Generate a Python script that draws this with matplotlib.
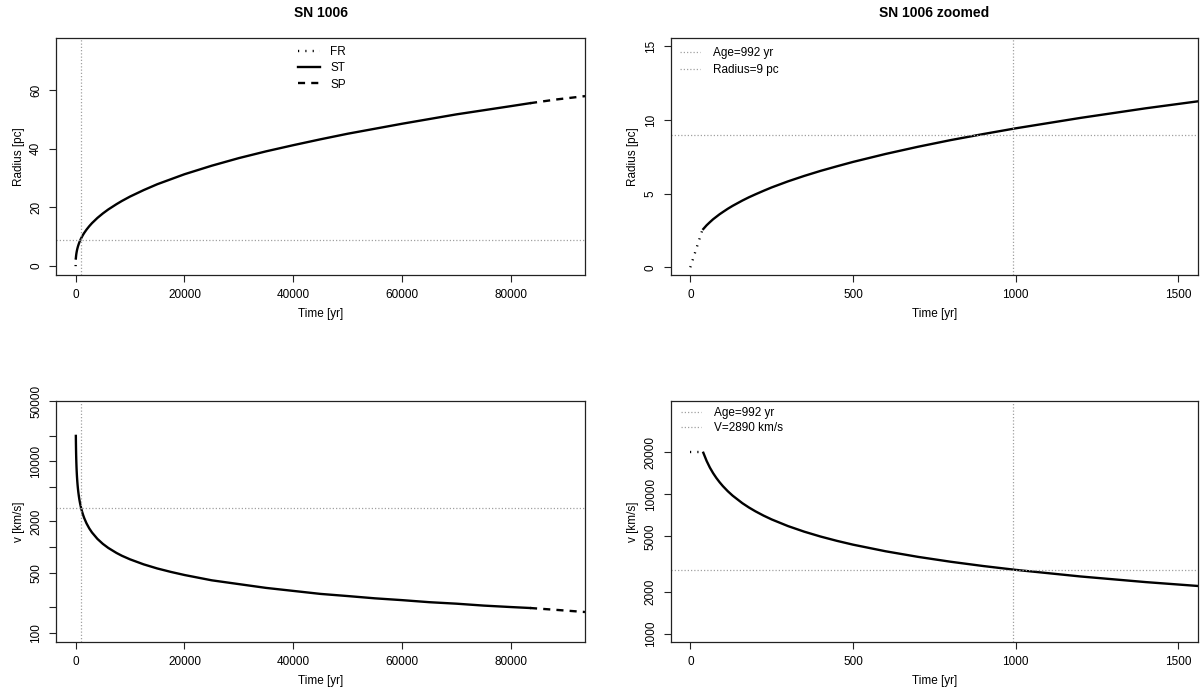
#!/usr/bin/env python3

import matplotlib
matplotlib.use("Agg")
import matplotlib.pyplot as plt
from matplotlib.ticker import FixedLocator, FixedFormatter, NullLocator

plt.rcParams['font.family'] = ['Liberation Sans', 'DejaVu Sans']

# values
age = 992          # yr
radius = 9         # pc
vel = 2890         # km/s

# free expansion phase (FR)
t_fr = [0, 38]
r_fr = [0, 2.6]
v_fr = [20000, 20000]

# Sedov-Taylor phase (ST)
t_st = [40, 50, 60, 70, 80, 90, 100, 115, 130, 160, 180, 200, 225, 250, 300,
        350, 400, 450, 500, 600, 700, 800, 900, 1000, 1200, 1400, 1600, 2000,
        2500, 3000, 4000, 5000, 6000, 7500, 8500, 10000, 12500, 15000, 17500,
        20000, 25000, 30000, 35000, 40000, 45000, 50000, 55000, 60000, 65000,
        70000, 75000, 80000, 83500]
r_st = [2.6, 2.85, 3.06, 3.26, 3.43, 3.60, 3.75, 3.97, 4.17, 4.53, 4.75, 4.95,
        5.19, 5.42, 5.83, 6.20, 6.54, 6.85, 7.15, 7.69, 8.18, 8.63, 9.04, 9.43,
        10.14, 10.79, 11.38, 12.44, 13.6, 14.64, 16.42, 17.95, 19.31, 21.1,
        22.2, 23.7, 25.9, 27.9, 29.6, 31.3, 34.2, 36.8, 39.1, 41.2, 43.2, 45.1,
        46.8, 48.5, 50.1, 51.7, 53.1, 54.5, 55.5]
v_st = [19840, 17360, 15550, 14180, 13090, 12200, 11450, 10530, 9783, 8636,
        8048, 7555, 7039, 6607, 5923, 5400, 4984, 4644, 4358, 3908, 3563, 3288,
        3064, 2876, 2578, 2350, 2170, 1898, 1660, 1488, 1252, 1095, 982, 859,
        796, 723, 632, 566, 516, 475, 412, 372, 336, 310, 286, 270, 254, 242,
        229, 220, 209, 201, 196]

# snowplow phase (SP)
t_sp = [83500, 88500, 93600]
r_sp = [55.5, 56.8, 57.9]
v_sp = [196, 186, 176]

LW = 1.7
DOT = (0.5, 2.6)
REF = dict(color='#a0a0a0', lw=0.9, dashes=(1, 1.6))
FS = 8.5


def draw_phases(ax, y_fr, y_st, y_sp):
    ax.plot(t_fr, y_fr, color='black', lw=LW, dashes=DOT, label='FR')
    ax.plot(t_st, y_st, color='black', lw=LW, label='ST')
    ax.plot(t_sp, y_sp, color='black', lw=LW, dashes=(3, 2.6), label='SP')


def style_axes(ax):
    for s in ax.spines.values():
        s.set_linewidth(0.9)
        s.set_color('#222222')
    ax.tick_params(direction='out', length=5, width=0.8, labelsize=FS,
                   pad=5, colors='#222222', labelcolor='black')
    for lab in ax.get_yticklabels():
        lab.set_rotation(90)
        lab.set_va('center')
    ax.set_xlabel("Time [yr]", fontsize=FS, labelpad=5)


def main():
    fig = plt.figure(figsize=(12, 6.97), dpi=100)

    ax1 = fig.add_axes([0.0467, 0.6055, 0.4408, 0.340])
    ax2 = fig.add_axes([0.559, 0.6055, 0.4392, 0.340])
    ax3 = fig.add_axes([0.0467, 0.0789, 0.4408, 0.346])
    ax4 = fig.add_axes([0.559, 0.0789, 0.4392, 0.346])

    # top left: radius, full range
    draw_phases(ax1, r_fr, r_st, r_sp)
    ax1.axvline(age, **REF)
    ax1.axhline(radius, **REF)
    ax1.set_xlim(-3600, 93600)
    ax1.set_ylim(-3.0, 77.7)
    ax1.set_xticks([0, 20000, 40000, 60000, 80000])
    ax1.set_yticks([0, 20, 40, 60])
    ax1.set_ylabel("Radius [pc]", fontsize=FS, labelpad=4)
    ax1.set_title("SN 1006", fontsize=10, fontweight='bold', pad=15)
    ax1.legend(loc='upper left', bbox_to_anchor=(0.458, 0.965), frameon=False,
               fontsize=FS, handlelength=1.8, handletextpad=0.9,
               labelspacing=0.35, borderpad=0, borderaxespad=0)

    # top right: radius, zoomed
    draw_phases(ax2, r_fr, r_st, r_sp)
    ax2.axvline(age, label='Age=992 yr', **REF)
    ax2.axhline(radius, label='Radius=9 pc', **REF)
    ax2.set_xlim(-60, 1560)
    ax2.set_ylim(-0.52, 15.56)
    ax2.set_xticks([0, 500, 1000, 1500])
    ax2.set_yticks([0, 5, 10, 15])
    ax2.set_ylabel("Radius [pc]", fontsize=FS, labelpad=4)
    ax2.set_title("SN 1006 zoomed", fontsize=10, fontweight='bold', pad=15)
    h, l = ax2.get_legend_handles_labels()
    ax2.legend(h[-2:], l[-2:], loc='upper left', bbox_to_anchor=(0.017, 0.962),
               frameon=False, fontsize=FS, handlelength=1.7, handletextpad=1.1,
               labelspacing=0.4, borderpad=0, borderaxespad=0)

    # bottom left: velocity, full range
    draw_phases(ax3, v_fr, v_st, v_sp)
    ax3.axvline(age, **REF)
    ax3.axhline(vel, **REF)
    ax3.set_yscale('log')
    ax3.set_xlim(-3600, 93600)
    ax3.set_ylim(78.7, 50800)
    ax3.set_xticks([0, 20000, 40000, 60000, 80000])
    yt = [100, 200, 500, 1000, 2000, 5000, 10000, 20000, 50000]
    yl = ['100', '', '500', '', '2000', '', '10000', '', '50000']
    ax3.yaxis.set_major_locator(FixedLocator(yt))
    ax3.yaxis.set_major_formatter(FixedFormatter(yl))
    ax3.yaxis.set_minor_locator(NullLocator())
    ax3.set_ylabel("v [km/s]", fontsize=FS, labelpad=4)

    # bottom right: velocity, zoomed
    draw_phases(ax4, v_fr, v_st, v_sp)
    ax4.axvline(age, label='Age=992 yr', **REF)
    ax4.axhline(vel, label='V=2890 km/s', **REF)
    ax4.set_yscale('log')
    ax4.set_xlim(-60, 1560)
    ax4.set_ylim(875, 46700)
    ax4.set_xticks([0, 500, 1000, 1500])
    yt = [1000, 2000, 5000, 10000, 20000]
    ax4.yaxis.set_major_locator(FixedLocator(yt))
    ax4.yaxis.set_major_formatter(FixedFormatter([str(v) for v in yt]))
    ax4.yaxis.set_minor_locator(NullLocator())
    ax4.set_ylabel("v [km/s]", fontsize=FS, labelpad=4)
    h, l = ax4.get_legend_handles_labels()
    ax4.legend(h[-2:], l[-2:], loc='upper left', bbox_to_anchor=(0.019, 0.975),
               frameon=False, fontsize=FS, handlelength=1.7, handletextpad=1.1,
               labelspacing=0.3, borderpad=0, borderaxespad=0)

    for ax in (ax1, ax2, ax3, ax4):
        style_axes(ax)

    fig.savefig("out.png", dpi=100)


if __name__ == "__main__":
    main()
